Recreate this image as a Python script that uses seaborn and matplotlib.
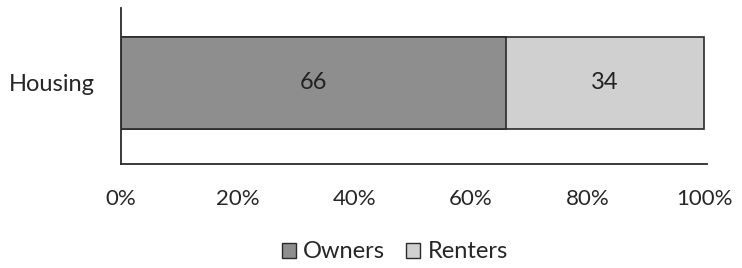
import matplotlib
matplotlib.use("Agg")
import matplotlib.pyplot as plt
import seaborn as sns
import pandas as pd
from matplotlib.patches import Patch

# data
categories = ["Housing"]
owners = [66]
renters = [34]
series_names = ["Owners", "Renters"]
xticks = [0, 20, 40, 60, 80, 100]
xtick_labels = ["0%", "20%", "40%", "60%", "80%", "100%"]

sns.set_style("white")
plt.rcParams["font.family"] = ["Lato", "DejaVu Sans"]

df = pd.DataFrame({"category": categories, "Owners": owners, "Renters": renters})
df["total"] = df["Owners"] + df["Renters"]

c_own = "#8e8e8e"
c_rent = "#d0d0d0"
edge = "#2a2a2a"

fig = plt.figure(figsize=(7.42, 2.68), dpi=100)
ax = fig.add_axes([0.163, 0.388, 0.79, 0.582])

# stacked: draw totals first, then owners on top
sns.barplot(data=df, x="total", y="category", color=c_rent, width=0.6,
            edgecolor=edge, linewidth=1.2, ax=ax, orient="h")
sns.barplot(data=df, x="Owners", y="category", color=c_own, width=0.6,
            edgecolor=edge, linewidth=1.2, ax=ax, orient="h")

# value labels in the middle of each segment
for i, row in df.iterrows():
    ax.text(row["Owners"] / 2, i, str(row["Owners"]), ha="center", va="center",
            fontsize=17, color="#222222")
    ax.text(row["Owners"] + row["Renters"] / 2, i, str(row["Renters"]),
            ha="center", va="center", fontsize=17, color="#222222")

ax.set_xlim(0, 100.5)
ax.set_ylim(0.534, -0.494)
ax.set_xticks(xticks)
ax.set_xticklabels(xtick_labels, fontsize=16)
ax.tick_params(axis="x", length=0, pad=18)
ax.tick_params(axis="y", length=0, pad=19, labelsize=17)
ax.set_xlabel("")
ax.set_ylabel("")

for s in ["top", "right"]:
    ax.spines[s].set_visible(False)
for s in ["left", "bottom"]:
    ax.spines[s].set_color(edge)
    ax.spines[s].set_linewidth(1.3)

handles = [Patch(facecolor=c_own, edgecolor=edge),
           Patch(facecolor=c_rent, edgecolor=edge)]
fig.legend(handles, series_names, loc="center", bbox_to_anchor=(0.532, 0.06),
           ncol=2, frameon=False, fontsize=17, handlelength=0.6,
           handleheight=0.6, handletextpad=0.3, columnspacing=0.9)

fig.savefig("out.png", dpi=100)
